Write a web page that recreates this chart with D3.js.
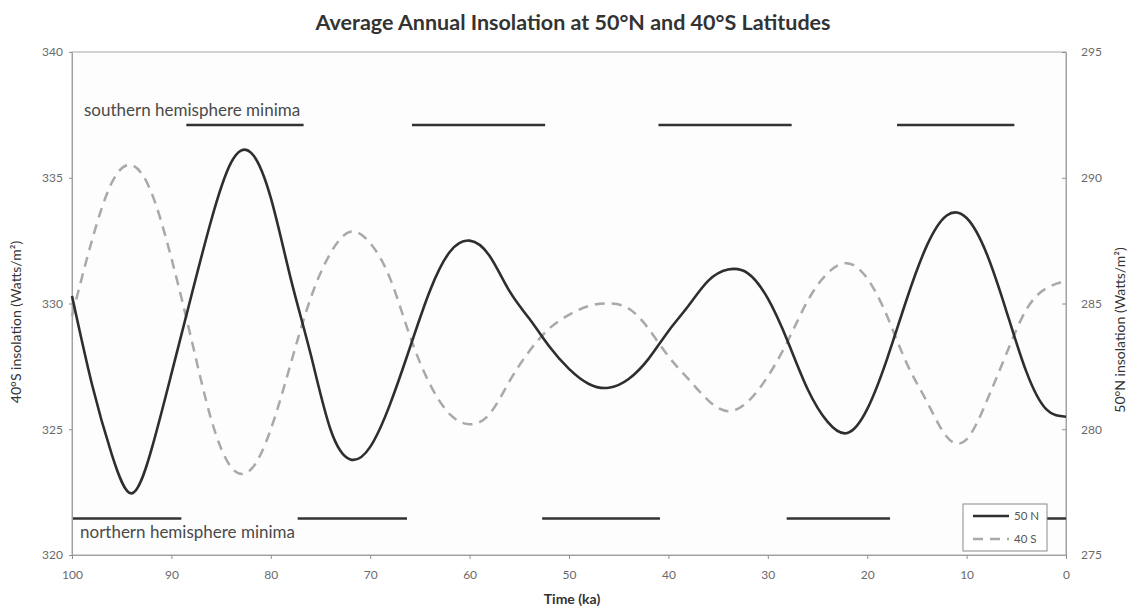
<!DOCTYPE html>
<html>
<head>
<meta charset="utf-8">
<script src="https://cdn.jsdelivr.net/npm/d3@7"></script>
<style>
  body { margin: 0; background: #fff; }
  svg text { font-family: Lato, 'Open Sans', sans-serif; }
</style>
</head>
<body>
<main></main>
<script>
// time in thousands of years before present
const ka = [100, 98, 96, 94, 92, 90, 88, 86, 84, 82, 80, 78, 76, 74, 72, 70, 68, 66, 64, 62,
            60, 58, 56, 54, 52, 50, 48, 46, 44, 42, 40, 38, 36, 34, 32, 30, 28, 26, 24, 22,
            20, 18, 16, 14, 12, 10, 8, 6, 4, 2, 0]

// 50N insolation, right axis (W/m2)
const north50 = [285.3, 281.8, 279.0, 277.45, 279.2, 282.2, 285.3, 288.3, 290.6, 291.0,
                 289.2, 286.0, 283.0, 280.0, 278.8, 279.3, 281.0, 283.25, 285.5, 287.05,
                 287.5, 286.9, 285.5, 284.4, 283.3, 282.4, 281.8, 281.65, 282.0, 282.8,
                 283.9, 284.9, 285.9, 286.35, 286.2, 285.2, 283.5, 281.6, 280.3, 279.85,
                 280.8, 282.8, 285.2, 287.3, 288.5, 288.4, 287.0, 284.7, 282.3, 280.8, 280.5]

// 40S insolation, left axis (W/m2)
const south40 = [329.5, 332.5, 334.8, 335.5, 334.4, 331.8, 328.6, 325.4, 323.5, 323.4,
                 325.0, 327.6, 330.2, 332.0, 332.85, 332.4, 331.0, 328.7, 326.8, 325.6,
                 325.2, 325.6, 326.9, 328.1, 329.0, 329.55, 329.9, 330.0, 329.8, 329.0,
                 327.9, 327.0, 326.15, 325.72, 326.1, 327.1, 328.5, 330.1, 331.2, 331.6,
                 331.0, 329.5, 327.6, 326.1, 324.7, 324.6, 326.1, 328.0, 329.75, 330.6, 330.9]

const xTicks = [100, 90, 80, 70, 60, 50, 40, 30, 20, 10, 0]
const leftTicks = [320, 325, 330, 335, 340]
const rightTicks = [275, 280, 285, 290, 295]

// minima periods [from ka, to ka]
const southMinima = [[88.5, 76.7], [65.8, 52.4], [41.0, 27.6], [17.0, 5.2]]
const northMinima = [[99.9, 89.0], [77.3, 66.3], [52.7, 40.85], [28.1, 17.7], [6.3, 0]]
const southLevel = 337.1   // left axis units
const northLevel = 321.45

const width = 1133
const height = 609
const plot = { left: 72, right: 1066, top: 52, bottom: 555 }

const svg = d3.select('main')
              .append('svg')
              .attr('width', width)
              .attr('height', height)

svg.append('rect')
    .attr('width', width).attr('height', height)
    .attr('fill', '#fff')

const x = d3.scaleLinear().domain([100, 0]).range([plot.left, plot.right])
const yL = d3.scaleLinear().domain([320, 340]).range([plot.bottom, plot.top])
const yR = d3.scaleLinear().domain([275, 295]).range([plot.bottom, plot.top])

// plot frame
svg.append('rect')
    .attr('x', plot.left).attr('y', plot.top)
    .attr('width', plot.right - plot.left)
    .attr('height', plot.bottom - plot.top)
    .attr('fill', '#fdfdfd')
    .attr('stroke', '#a8a8a8')
    .attr('stroke-width', 1)

const styleAxis = (g) => {
  g.select('.domain').attr('stroke', '#a0a0a0')
  g.selectAll('.tick line').attr('stroke', '#909090')
  g.selectAll('.tick text').attr('fill', '#6a6a6a').style('font-size', '12px')
}

svg.append('g')
    .attr('transform', `translate(${plot.left},0)`)
    .call(d3.axisLeft(yL).tickValues(leftTicks).tickSizeOuter(0).tickSizeInner(3).tickPadding(6))
    .call(styleAxis)

svg.append('g')
    .attr('transform', `translate(${plot.right},0)`)
    .call(d3.axisRight(yR).tickValues(rightTicks).tickSizeOuter(0).tickSizeInner(-4).tickPadding(15))
    .call(styleAxis)

svg.append('g')
    .attr('transform', `translate(0,${plot.bottom})`)
    .call(d3.axisBottom(x).tickValues(xTicks).tickSizeOuter(0).tickSizeInner(4).tickPadding(11))
    .call(styleAxis)

// minima bars
const barGroup = svg.append('g')
barGroup.selectAll('.smin')
    .data(southMinima)
    .enter()
    .append('line')
    .attr('x1', d => x(d[0])).attr('x2', d => x(d[1]))
    .attr('y1', yL(southLevel)).attr('y2', yL(southLevel))
    .attr('stroke', '#333').attr('stroke-width', 2.5)

barGroup.selectAll('.nmin')
    .data(northMinima)
    .enter()
    .append('line')
    .attr('x1', d => x(d[0])).attr('x2', d => x(d[1]))
    .attr('y1', yL(northLevel)).attr('y2', yL(northLevel))
    .attr('stroke', '#333').attr('stroke-width', 2.5)

svg.append('text')
    .attr('x', 84).attr('y', 116)
    .attr('fill', '#4a4a4a')
    .style('font-size', '17px')
    .text('southern hemisphere minima')

svg.append('text')
    .attr('x', 80).attr('y', 538)
    .attr('fill', '#4a4a4a')
    .style('font-size', '17px')
    .text('northern hemisphere minima')

// series
const lineS = d3.line()
                .x((d, i) => x(ka[i]))
                .y(d => yL(d))
                .curve(d3.curveNatural)

const lineN = d3.line()
                .x((d, i) => x(ka[i]))
                .y(d => yR(d))
                .curve(d3.curveNatural)

svg.append('path')
    .datum(south40)
    .attr('d', lineS)
    .attr('fill', 'none')
    .attr('stroke', '#a9a9a9')
    .attr('stroke-width', 2.5)
    .attr('stroke-dasharray', '10,7')

svg.append('path')
    .datum(north50)
    .attr('d', lineN)
    .attr('fill', 'none')
    .attr('stroke', '#2e2e2e')
    .attr('stroke-width', 2.6)

// legend
const legend = svg.append('g').attr('transform', 'translate(963,504)')
legend.append('rect')
    .attr('width', 84).attr('height', 47)
    .attr('fill', '#fff')
    .attr('stroke', '#8a8a8a')
legend.append('line')
    .attr('x1', 10).attr('x2', 46).attr('y1', 12).attr('y2', 12)
    .attr('stroke', '#2e2e2e').attr('stroke-width', 2.6)
legend.append('text')
    .attr('x', 51).attr('y', 16)
    .attr('fill', '#555').style('font-size', '11.5px')
    .text('50 N')
legend.append('line')
    .attr('x1', 10).attr('x2', 46).attr('y1', 35).attr('y2', 35)
    .attr('stroke', '#a9a9a9').attr('stroke-width', 2.5)
    .attr('stroke-dasharray', '10,7')
legend.append('text')
    .attr('x', 51).attr('y', 39)
    .attr('fill', '#555').style('font-size', '11.5px')
    .text('40 S')

// titles
svg.append('text')
    .attr('x', 573).attr('y', 30)
    .attr('text-anchor', 'middle')
    .attr('fill', '#333')
    .style('font-size', '21.5px')
    .style('font-weight', 'bold')
    .text('Average Annual Insolation at 50°N and 40°S Latitudes')

svg.append('text')
    .attr('x', 572).attr('y', 604)
    .attr('text-anchor', 'middle')
    .attr('fill', '#333')
    .style('font-size', '14px')
    .style('font-weight', 'bold')
    .text('Time (ka)')

svg.append('text')
    .attr('transform', 'translate(21,322) rotate(-90)')
    .attr('text-anchor', 'middle')
    .attr('fill', '#333')
    .style('font-size', '14px')
    .text('40°S insolation (Watts/m²)')

svg.append('text')
    .attr('transform', 'translate(1125,330) rotate(-90)')
    .attr('text-anchor', 'middle')
    .attr('fill', '#333')
    .style('font-size', '14px')
    .text('50°N insolation (Watts/m²)')
</script>
</body>
</html>
